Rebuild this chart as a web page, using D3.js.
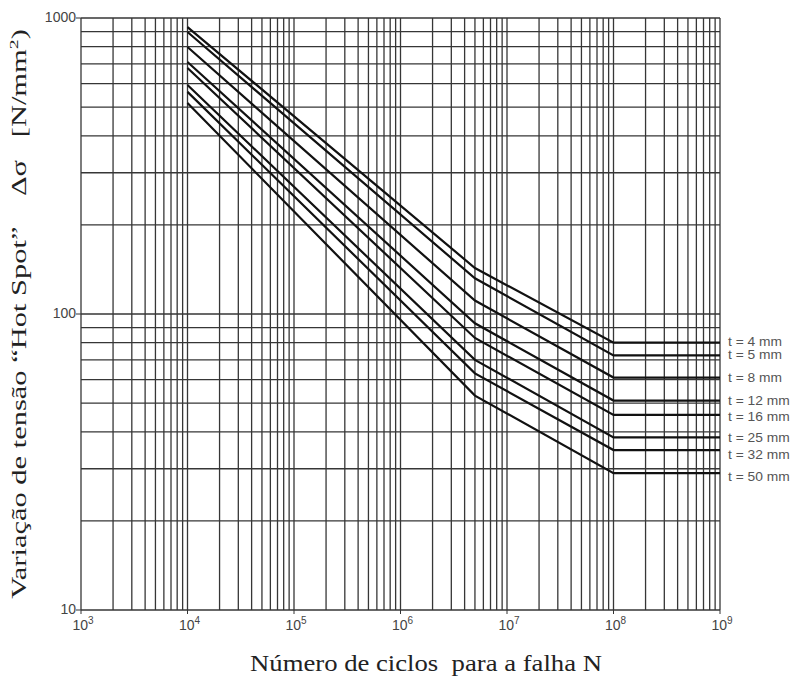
<!DOCTYPE html>
<html>
<head>
<meta charset="utf-8">
<script src="https://cdn.jsdelivr.net/npm/d3@7"></script>
<style>
  body { margin: 0; background: #fff; }
  .grid line { stroke: #363636; stroke-width: 1.3; }
  .curve { fill: none; stroke: #111; stroke-width: 2.2; }
  text { white-space: pre; }
</style>
</head>
<body>
<script>
// chart size
var w = 794;
var h = 677;

// thickness labels and S-N curve values (N, delta sigma)
var thickness = ["t = 4 mm", "t = 5 mm", "t = 8 mm", "t = 12 mm", "t = 16 mm", "t = 25 mm", "t = 32 mm", "t = 50 mm"];
var cycles = [1e4, 5e6, 1e8, 1e9];
var stress = [
    [932, 143, 80, 80],
    [897, 132, 72.5, 72.5],
    [798, 111, 61, 61],
    [710, 93, 51, 51],
    [678, 83, 45.6, 45.6],
    [594, 70, 38.3, 38.3],
    [563, 63, 34.7, 34.7],
    [516, 53, 29, 29]
];
var labelNudge = [-1, 0, 0, 0, 2, 1, 5, 4]; // keeps labels from overlapping

// tick labels
var xTickPowers = [3, 4, 5, 6, 7, 8, 9];
var yTicks = [10, 100, 1000];

var svg = d3.select("body").append("svg")
    .attr("width", w)
    .attr("height", h);

var xScale = d3.scaleLog().domain([1e3, 1e9]).range([81, 720]);
var yScale = d3.scaleLog().domain([10, 1000]).range([610, 18]);

// grid values: 1..9 in each decade
var xGrid = [];
for (var p = 3; p < 9; p++) {
    for (var m = 1; m <= 9; m++) xGrid.push(m * Math.pow(10, p));
}
xGrid.push(1e9);
var yGrid = [];
for (var q = 1; q < 3; q++) {
    for (var k = 1; k <= 9; k++) yGrid.push(k * Math.pow(10, q));
}
yGrid.push(1000);

var grid = svg.append("g").attr("class", "grid");
grid.selectAll(".vx")
    .data(xGrid)
    .enter()
    .append("line")
    .attr("x1", function(d) { return xScale(d); })
    .attr("x2", function(d) { return xScale(d); })
    .attr("y1", yScale(1000))
    .attr("y2", yScale(10));
grid.selectAll(".hy")
    .data(yGrid)
    .enter()
    .append("line")
    .attr("x1", xScale(1e3))
    .attr("x2", xScale(1e9))
    .attr("y1", function(d) { return yScale(d); })
    .attr("y2", function(d) { return yScale(d); });

// small tick marks
svg.selectAll(".xt")
    .data(xTickPowers)
    .enter()
    .append("line")
    .attr("x1", function(d) { return xScale(Math.pow(10, d)); })
    .attr("x2", function(d) { return xScale(Math.pow(10, d)); })
    .attr("y1", yScale(10))
    .attr("y2", yScale(10) + 4)
    .attr("stroke", "#333");
svg.selectAll(".yt")
    .data(yTicks)
    .enter()
    .append("line")
    .attr("x1", xScale(1e3) - 5)
    .attr("x2", xScale(1e3))
    .attr("y1", function(d) { return yScale(d); })
    .attr("y2", function(d) { return yScale(d); })
    .attr("stroke", "#333");

// curves
var line = d3.line()
    .x(function(d, i) { return xScale(cycles[i]); })
    .y(function(d) { return yScale(d); });

svg.selectAll(".curve")
    .data(stress)
    .enter()
    .append("path")
    .attr("class", "curve")
    .attr("d", line);

// thickness labels
svg.selectAll(".tlab")
    .data(stress)
    .enter()
    .append("text")
    .attr("transform", function(d, i) {
        return "translate(" + (xScale(1e9) + 8) + "," + (yScale(d[3]) + 4 + labelNudge[i]) + ") scale(1.15,1)";
    })
    .attr("font-family", "Liberation Sans, Arial, sans-serif")
    .attr("font-size", "12px")
    .attr("fill", "#555")
    .text(function(d, i) { return thickness[i]; });

// y tick labels
svg.selectAll(".ylab")
    .data(yTicks)
    .enter()
    .append("text")
    .attr("x", xScale(1e3) - 5)
    .attr("y", function(d) { return yScale(d) + 4; })
    .attr("text-anchor", "end")
    .attr("font-family", "Liberation Sans, Arial, sans-serif")
    .attr("font-size", "14px")
    .attr("fill", "#444")
    .text(function(d) { return d; });

// x tick labels with exponent
var xl = svg.selectAll(".xlab")
    .data(xTickPowers)
    .enter()
    .append("text")
    .attr("x", function(d) { return xScale(Math.pow(10, d)) + 2; })
    .attr("y", 630)
    .attr("text-anchor", "middle")
    .attr("font-family", "Liberation Sans, Arial, sans-serif")
    .attr("font-size", "14px")
    .attr("fill", "#444");
xl.append("tspan").text("10");
xl.append("tspan")
    .attr("dy", -6)
    .attr("font-size", "10px")
    .text(function(d) { return d; });

// stretch a text element so that it spans a given length
function fitText(sel, len, tx, ty, rot) {
    var bw = sel.node().getBBox().width;
    sel.attr("transform", "translate(" + tx + "," + ty + ")" + (rot ? " rotate(" + rot + ")" : "") + " scale(" + (len / bw) + ",1)");
}

// axis titles
var xt = svg.append("text")
    .attr("text-anchor", "middle")
    .attr("font-family", "Liberation Serif, Times New Roman, serif")
    .attr("font-size", "24px")
    .attr("fill", "#222")
    .text("Número de ciclos  para a falha N");
fitText(xt, 352, 426, 671, 0);

var yt = svg.append("text")
    .attr("text-anchor", "middle")
    .attr("font-family", "Liberation Serif, Times New Roman, serif")
    .attr("font-size", "20px")
    .attr("fill", "#222");
yt.append("tspan").text("Variação de tensão “Hot Spot”    Δσ   [N/mm");
yt.append("tspan").attr("dy", -8).attr("font-size", "13px").text("2");
yt.append("tspan").attr("dy", 8).text(")");
fitText(yt, 570, 26, 314, -90);
</script>
</body>
</html>
